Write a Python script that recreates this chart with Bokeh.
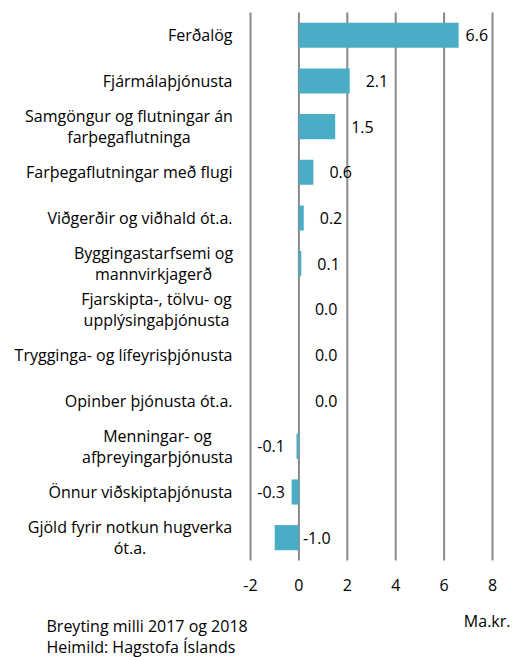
from bokeh.plotting import figure
from bokeh.models import Range1d, ColumnDataSource
from bokeh.core.properties import value
from bokeh.embed import file_html
from bokeh.resources import INLINE

categories = [
    "Ferðalög",
    "Fjármálaþjónusta",
    "Samgöngur og flutningar án\nfarþegaflutninga",
    "Farþegaflutningar með flugi",
    "Viðgerðir og viðhald ót.a.",
    "Byggingastarfsemi og\nmannvirkjagerð",
    "Fjarskipta-, tölvu- og\nupplýsingaþjónusta",
    "Trygginga- og lífeyrisþjónusta",
    "Opinber þjónusta ót.a.",
    "Menningar- og\nafþreyingarþjónusta",
    "Önnur viðskiptaþjónusta",
    "Gjöld fyrir notkun hugverka\nót.a.",
]
values = [6.6, 2.1, 1.5, 0.6, 0.2, 0.1, 0.0, 0.0, 0.0, -0.1, -0.3, -1.0]
ticks = [-2, 0, 2, 4, 6, 8]
note_lines = ["Breyting milli 2017 og 2018", "Heimild: Hagstofa Íslands"]
unit_label = "Ma.kr."

FONT = "Open Sans"
FS = "16px"
BAR = "#4BACC6"
GRID = "#888888"
# approximate pixel width of the widest line of each wrapped label (for centred lines)
BLOCK_W = {2: 207, 5: 158, 6: 152, 9: 150, 11: 205}

W, H = 529, 657
p = figure(width=W, height=H, output_backend="svg", toolbar_location=None,
           x_range=Range1d(-12.331, 9.529), y_range=Range1d(13.624, -0.762),
           min_border=0)
p.axis.visible = False
p.grid.visible = False
p.outline_line_color = None

n = len(categories)
rows = list(range(n))

# grid lines
p.segment(x0=ticks, x1=ticks, y0=[-0.5] * len(ticks), y1=[n - 0.5] * len(ticks),
          line_color=GRID, line_width=2)

# bars
src = ColumnDataSource(dict(y=rows, v=values))
p.hbar(y="y", left=0, right="v", height=0.55, source=src, fill_color=BAR, line_color=None)

# category labels
LX = -2.744
sx, sy, st = [], [], []
mx, my, mt, myo, mxo = [], [], [], [], []
for i, c in enumerate(categories):
    parts = c.split("\n")
    if len(parts) == 1:
        sx.append(LX); sy.append(i); st.append(parts[0])
    else:
        for k, part in enumerate(parts):
            mx.append(LX); my.append(i); mt.append(part)
            myo.append(-10.5 if k == 0 else 10.5)
            mxo.append(-BLOCK_W[i] / 2)
p.text(x=sx, y=sy, text=st, text_align="right", text_baseline="middle",
       text_font=value(FONT), text_font_size=FS, text_color="#000000")
p.text(x=mx, y=my, text=mt, x_offset=mxo, y_offset=myo, text_align="center",
       text_baseline="middle", text_font=value(FONT), text_font_size=FS, text_color="#000000")

# value labels
vx = [max(v, 0) for v in values]
vtxt = [f"{v:.1f}" for v in values]
vo, va = [], []
for v in values:
    if v >= 0:
        vo.append(16 if v < 5 else 7); va.append("left")
    elif v > -0.5:
        vo.append(-14); va.append("right")
    else:
        vo.append(4); va.append("left")
p.text(x=vx, y=rows, text=vtxt, x_offset=vo, text_align=va, text_baseline="middle",
       text_font=value(FONT), text_font_size=FS, text_color="#000000")

# tick labels
p.text(x=ticks, y=[12.047] * len(ticks), text=[str(t) for t in ticks], text_align="center",
       text_baseline="middle", text_font=value(FONT), text_font_size=FS, text_color="#000000")

# notes
p.text(x=[-10.43, -10.43], y=[12.945, 13.40], text=note_lines, text_align="left",
       text_baseline="middle", text_font=value(FONT), text_font_size=FS, text_color="#000000")
p.text(x=[8.744], y=[12.814], text=[unit_label], text_align="right", text_baseline="middle",
       text_font=value(FONT), text_font_size=FS, text_color="#000000")

open("out.html", "w").write(file_html(p, INLINE))
